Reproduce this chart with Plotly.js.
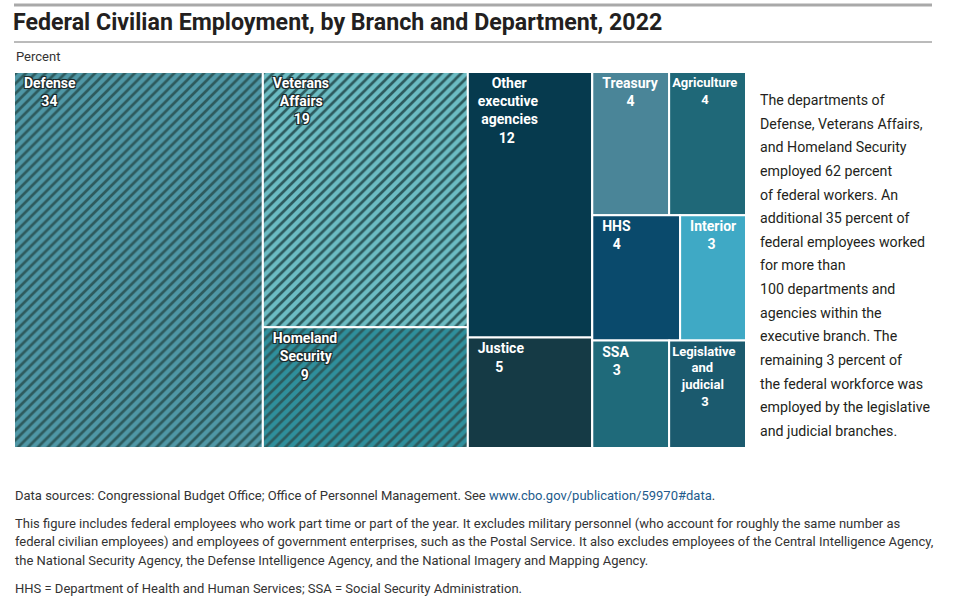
<!DOCTYPE html>
<html>
<head>
<meta charset="utf-8">
<script src="https://cdn.plot.ly/plotly-3.0.1.min.js"></script>
<style>html,body{margin:0;padding:0;background:#fff;}#chart{width:960px;height:600px;}</style>
</head>
<body>
<div id="chart"></div>
<script>
// ---- Data ----
const departments = ["Defense", "Veterans Affairs", "Homeland Security", "Other executive agencies", "Justice",
  "Treasury", "Agriculture", "HHS", "Interior", "SSA", "Legislative and judicial"];
const percent = [34, 19, 9, 12, 5, 4, 4, 4, 3, 3, 3];
const tileLabels = ["Defense", "Veterans<br>Affairs", "Homeland<br>Security", "Other<br>executive<br>agencies", "Justice",
  "Treasury", "Agriculture", "HHS", "Interior", "SSA", "Legislative<br>and<br>judicial"];
// layout grouping (column / row blocks of the tiling)
const blockColumn = ["", "A", "A", "B", "B", "C", "C", "C", "C", "C", "C"];
const blockRow = ["", "", "", "", "", "C1", "C1", "C2", "C2", "C3", "C3"];

// ---- Styles ----
const hatched = [true, true, true, false, false, false, false, false, false, false, false];
const tightLabel = [false, false, false, false, false, false, true, false, false, false, true];
const tileColors = ["#4f97a6", "#6cbcc3", "#2f8f9c", "#063a4e", "#153a45", "#4a8598", "#1f6878", "#0a4a6c", "#3fa9c5", "#1f6a7a", "#1b5a6e"];

const titleText = "Federal Civilian Employment, by Branch and Department, 2022";
const unitText = "Percent";
const sideText = ["The departments of", "Defense, Veterans Affairs,", "and Homeland Security", "employed 62 percent",
  "of federal workers. An", "additional 35 percent of", "federal employees worked", "for more than",
  "100 departments and", "agencies within the", "executive branch. The", "remaining 3 percent of",
  "the federal workforce was", "employed by the legislative", "and judicial branches."];
const noteSource = 'Data sources: Congressional Budget Office; Office of Personnel Management. See <span style="color:#235b8c">www.cbo.gov/publication/59970#data</span>.';
const noteBody = ["This figure includes federal employees who work part time or part of the year. It excludes military personnel (who account for roughly the same number as",
  "federal civilian employees) and employees of government enterprises, such as the Postal Service. It also excludes employees of the Central Intelligence Agency,",
  "the National Security Agency, the Defense Intelligence Agency, and the National Imagery and Mapping Agency."];
const noteAbbr = "HHS = Department of Health and Human Services; SSA = Social Security Administration.";

// ---- text centering helper (lines centered against each other) ----
const cv = document.createElement("canvas").getContext("2d");
function centerLines(s, size, lead) {
  cv.font = "bold " + size + "px Roboto";
  const nbspW = cv.measureText("\u00A0").width;
  const lines = s.split("<br>");
  const ws = lines.map(l => cv.measureText(l).width);
  const mx = Math.max(...ws);
  return lines.map((l, i) => lead + "\u00A0".repeat(Math.round((mx - ws[i]) / 2 / nbspW)) + l).join("<br>");
}

// ---- build hierarchy ----
const ids = ["root"], labels = [""], parents = [""], values = [0], texts = [""], colors = ["#ffffff"],
  shapes = [""], shadows = ["none"], sizes = [14];
const seen = {};
function addGroup(id, parent) {
  if (!id || seen[id]) return;
  seen[id] = true;
  ids.push(id); labels.push(""); parents.push(parent); values.push(0); texts.push("");
  colors.push("#ffffff"); shapes.push(""); shadows.push("none"); sizes.push(14);
}
const OUTLINE = "1px 1px 0 #1c2b2d, -1px -1px 0 #1c2b2d, 1px -1px 0 #1c2b2d, -1px 1px 0 #1c2b2d, 0 0 2px #000";
departments.forEach((d, i) => {
  addGroup(blockColumn[i], "root");
  addGroup(blockRow[i], blockColumn[i]);
  const par = blockRow[i] || blockColumn[i] || "root";
  const size = tightLabel[i] ? 13 : 14;
  ids.push(d); labels.push(d); parents.push(par); values.push(percent[i]);
  texts.push(centerLines(tileLabels[i] + "<br>" + percent[i], size, tightLabel[i] ? "" : "\u00A0\u00A0"));
  sizes.push(size);
  colors.push(tileColors[i]);
  shapes.push(hatched[i] ? "/" : "");
  shadows.push(hatched[i] ? OUTLINE : "none");
});

const trace = {
  type: "treemap",
  ids: ids, labels: labels, parents: parents, values: values,
  branchvalues: "remainder",
  sort: false,
  text: texts,
  textinfo: "text",
  textposition: "top left",
  textfont: { family: "Roboto", size: sizes, weight: "bold", color: "#ffffff", shadow: shadows },
  hoverinfo: "skip",
  tiling: { packing: "slice-dice", pad: 0 },
  pathbar: { visible: false },
  marker: {
    colors: colors,
    depthfade: false,
    pad: { t: 0, l: 0, r: 0, b: 0 },
    line: { color: "#ffffff", width: 2 },
    pattern: { shape: shapes, fgcolor: "#2d5a5d", bgcolor: colors, fillmode: "replace", size: 7, solidity: 0.38 }
  },
  domain: { x: [14 / 960, 746 / 960], y: [1 - 448 / 600, 1 - 72 / 600] }
};

const py = v => 1 - v / 600;
const px = v => v / 960;
const annotations = [];
annotations.push({ text: unitText, x: px(14), y: py(57), xref: "paper", yref: "paper", xanchor: "left", yanchor: "middle",
  showarrow: false, font: { family: "Roboto", size: 13, color: "#333" } });
sideText.forEach((t, i) => annotations.push({ text: t, x: px(758), y: py(100 + i * 23.64), xref: "paper", yref: "paper",
  xanchor: "left", yanchor: "middle", showarrow: false, font: { family: "Roboto", size: 14.2, color: "#231f20" } }));
const noteFont = { family: "Roboto", size: 13, color: "#333" };
annotations.push({ text: noteSource, x: px(13), y: py(495), xref: "paper", yref: "paper", xanchor: "left", yanchor: "middle",
  showarrow: false, font: noteFont });
noteBody.forEach((t, i) => annotations.push({ text: t, x: px(13), y: py(523 + i * 18.6), xref: "paper", yref: "paper",
  xanchor: "left", yanchor: "middle", showarrow: false, font: noteFont }));
annotations.push({ text: noteAbbr, x: px(13), y: py(588), xref: "paper", yref: "paper", xanchor: "left", yanchor: "middle",
  showarrow: false, font: noteFont });

const layout = {
  width: 960, height: 600,
  margin: { l: 0, r: 0, t: 0, b: 0 },
  paper_bgcolor: "#ffffff",
  title: { text: titleText, x: px(13), xanchor: "left", y: py(22), yanchor: "middle", xref: "paper", yref: "paper",
    font: { family: "Roboto", size: 23.2, weight: "bold", color: "#231f20" } },
  annotations: annotations,
  shapes: [
    { type: "line", xref: "paper", yref: "paper", x0: px(14), x1: px(932), y0: py(5), y1: py(5), line: { color: "#a9a9a9", width: 3 } },
    { type: "line", xref: "paper", yref: "paper", x0: px(14), x1: px(932), y0: py(42), y1: py(42), line: { color: "#777", width: 1 } }
  ],
  showlegend: false
};

Plotly.newPlot("chart", [trace], layout, { displayModeBar: false, staticPlot: true });
</script>
</body>
</html>
